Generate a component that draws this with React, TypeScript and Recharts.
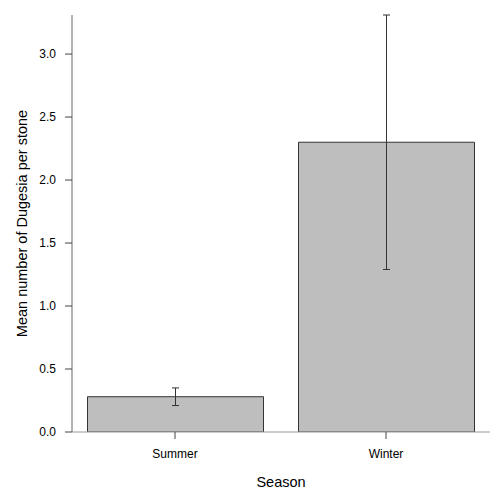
import React from "react";
import { BarChart, Bar, XAxis, YAxis, ErrorBar, Label } from "recharts";

const seasons = ["Summer", "Winter"];
const meanDugesia = [0.28, 2.3];
const errorHalfWidth = [0.07, 1.01];
const yTicks = [0, 0.5, 1.0, 1.5, 2.0, 2.5, 3.0];

const data = seasons.map((s, i) => ({
  season: s,
  mean: meanDugesia[i],
  err: errorHalfWidth[i],
}));

const font = "'Liberation Sans', Arial, Helvetica, sans-serif";

export default function App() {
  return (
    <div style={{ position: "absolute", left: 0, top: 0, width: 504, height: 504, background: "#fff" }}>
      <BarChart
        width={504}
        height={504}
        data={data}
        margin={{ top: 15, right: 14, left: 0, bottom: 0 }}
        barCategoryGap={0}
        style={{ fontFamily: font }}
      >
        <XAxis
          dataKey="season"
          height={72}
          padding={{ left: -2.5, right: -1.5 }}
          tickSize={7}
          tickMargin={10}
          axisLine={{ stroke: "#999", strokeWidth: 1 }}
          tickLine={{ stroke: "#444", strokeWidth: 1 }}
          tick={{ fill: "#000", fontSize: 12, fontFamily: font }}
        >
          <Label
            value="Season"
            position="insideBottom"
            offset={17}
            style={{ fill: "#000", fontSize: 14.5, fontFamily: font }}
          />
        </XAxis>
        <YAxis
          width={72}
          domain={[0, 3.31]}
          ticks={yTicks}
          allowDataOverflow
          tickSize={7}
          tickMargin={9}
          tickFormatter={(v: number) => v.toFixed(1)}
          axisLine={{ stroke: "#666", strokeWidth: 1 }}
          tickLine={{ stroke: "#444", strokeWidth: 1 }}
          tick={{ fill: "#000", fontSize: 12, fontFamily: font }}
        >
          <Label
            value="Mean number of Dugesia per stone"
            angle={-90}
            position="center"
            dx={-14}
            style={{ fill: "#000", fontSize: 14.5, fontFamily: font, textAnchor: "middle" }}
          />
        </YAxis>
        <Bar
          dataKey="mean"
          fill="#bebebe"
          stroke="#333"
          strokeWidth={1}
          barSize={176}
          isAnimationActive={false}
        >
          <ErrorBar dataKey="err" width={3.5} stroke="#333" strokeWidth={1} direction="y" />
        </Bar>
      </BarChart>
    </div>
  );
}
